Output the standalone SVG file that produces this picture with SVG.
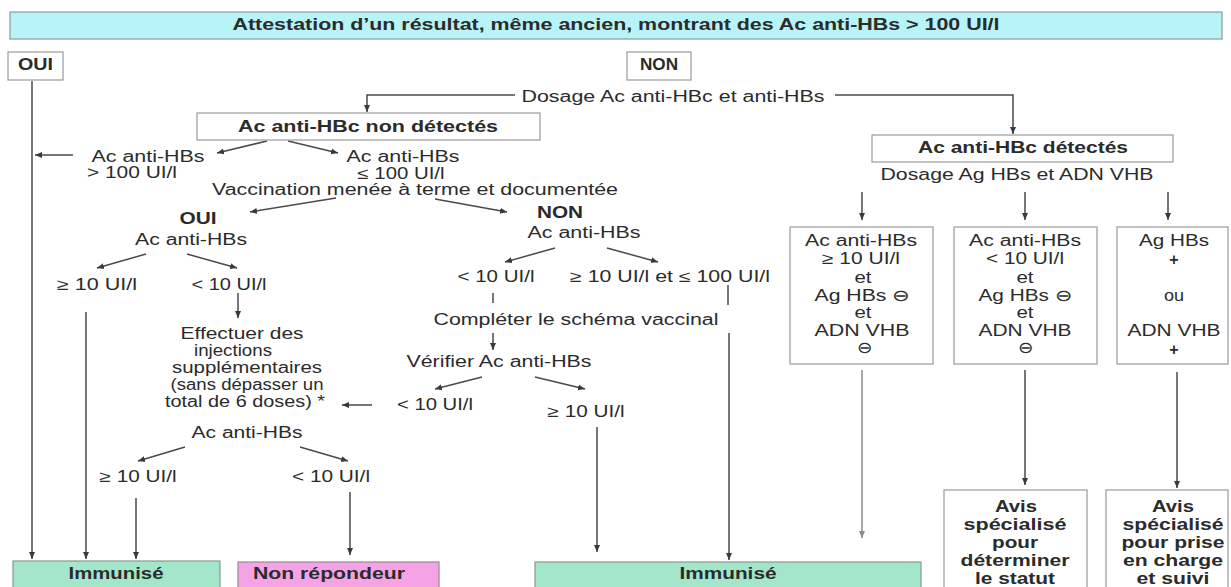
<svg xmlns="http://www.w3.org/2000/svg" width="1231" height="587" viewBox="0 0 1231 587">
<style>
.t{font-family:"Liberation Sans",Arial,sans-serif;font-size:16px;fill:#2b2b2b;text-anchor:middle}
.b{font-weight:bold}
.box{fill:#fff;stroke:#9a9a9a;stroke-width:1.2}
.ban{fill:#b8f3f8;stroke:#8a9a9c;stroke-width:1.2}
.imm{fill:#a4e6c9;stroke:#8a9a90;stroke-width:1.2}
.pink{fill:#f6a3e6;stroke:#9a8a96;stroke-width:1.2}
.c{fill:none;stroke:#4a4a4a;stroke-width:1.5}
.g{stroke:#8a8a8a}
</style>
<defs>
<marker id="ah" markerWidth="8" markerHeight="8" refX="7" refY="4" orient="auto" markerUnits="userSpaceOnUse"><path d="M0,1 L7,4 L0,7 z" fill="#3a3a3a"/></marker>
<marker id="ahg" markerWidth="8" markerHeight="8" refX="7" refY="4" orient="auto" markerUnits="userSpaceOnUse"><path d="M0,1 L7,4 L0,7 z" fill="#8a8a8a"/></marker>
</defs>
<rect width="1231" height="587" fill="#fff"/>

<g id="connectors">
<path class="c" d="M32,81 V559" marker-end="url(#ah)"/>
<path class="c" d="M515,95 H367 V112" marker-end="url(#ah)"/>
<path class="c" d="M835,95 H1013 V134" marker-end="url(#ah)"/>
<path class="c" d="M73,155 H35" marker-end="url(#ah)"/>
<path class="c" d="M267,141 L217,153" marker-end="url(#ah)"/>
<path class="c" d="M288,141 L338,153" marker-end="url(#ah)"/>
<path class="c" d="M336,198 L250,212" marker-end="url(#ah)"/>
<path class="c" d="M435,199 L507,212" marker-end="url(#ah)"/>
<path class="c" d="M146,254 L97,268" marker-end="url(#ah)"/>
<path class="c" d="M187,254 L237,268" marker-end="url(#ah)"/>
<path class="c" d="M555,248 L505,262" marker-end="url(#ah)"/>
<path class="c" d="M607,248 L658,262" marker-end="url(#ah)"/>
<path class="c" d="M238,293 V318" marker-end="url(#ah)"/>
<path class="c" d="M86,312 V559" marker-end="url(#ah)"/>
<path class="c" d="M372,405 H342" marker-end="url(#ah)"/>
<path class="c" d="M185,447 L138,461" marker-end="url(#ah)"/>
<path class="c" d="M300,447 L348,461" marker-end="url(#ah)"/>
<path class="c" d="M136,498 V559" marker-end="url(#ah)"/>
<path class="c" d="M350,492 V555" marker-end="url(#ah)"/>
<path class="c" d="M493,293 V303"/>
<path class="c" d="M493,333 V350" marker-end="url(#ah)"/>
<path class="c" d="M482,377 L435,389" marker-end="url(#ah)"/>
<path class="c" d="M535,377 L585,389" marker-end="url(#ah)"/>
<path class="c" d="M597,427 V552" marker-end="url(#ah)"/>
<path class="c" d="M728,285 V305"/>
<path class="c" d="M729,333 V560" marker-end="url(#ah)"/>
<path class="c" d="M862,192 V220" marker-end="url(#ah)"/>
<path class="c" d="M1025,192 V220" marker-end="url(#ah)"/>
<path class="c" d="M1168,192 V220" marker-end="url(#ah)"/>
<path class="c g" d="M862,370 V538" marker-end="url(#ahg)"/>
<path class="c" d="M1025,370 V485" marker-end="url(#ah)"/>
<path class="c" d="M1177,372 V488" marker-end="url(#ah)"/>
</g>

<g id="banner">
<rect class="ban" x="10" y="12" width="1212" height="27"/>
<text class="t b" x="616" y="30" font-size="14" textLength="767" lengthAdjust="spacingAndGlyphs">Attestation d’un résultat, même ancien, montrant des Ac anti-HBs &gt; 100 UI/l</text>
</g>
<g id="oui">
<rect class="box" x="8" y="52" width="55" height="28"/>
<text class="t b" x="35.5" y="70" font-size="14" textLength="35" lengthAdjust="spacingAndGlyphs">OUI</text>
</g>
<g id="non">
<rect class="box" x="627" y="52" width="64" height="28"/>
<text class="t b" x="659" y="70" font-size="14" textLength="38" lengthAdjust="spacingAndGlyphs">NON</text>
</g>
<g id="dosage1">
<text class="t" x="673" y="102" textLength="303" lengthAdjust="spacingAndGlyphs">Dosage Ac anti-HBc et anti-HBs</text>
</g>
<g id="nondetectes">
<rect class="box" x="197" y="113" width="343" height="27"/>
<text class="t b" x="368" y="132" textLength="260" lengthAdjust="spacingAndGlyphs">Ac anti-HBc non détectés</text>
</g>
<g id="sup100">
<text class="t" x="148" y="162" textLength="113" lengthAdjust="spacingAndGlyphs">Ac anti-HBs</text>
<text class="t" x="132" y="178" textLength="90" lengthAdjust="spacingAndGlyphs">&gt; 100 UI/l</text>
</g>
<g id="inf100">
<text class="t" x="403" y="162" textLength="113" lengthAdjust="spacingAndGlyphs">Ac anti-HBs</text>
<text class="t" x="401" y="179" textLength="87" lengthAdjust="spacingAndGlyphs">≤ 100 UI/l</text>
</g>
<g id="vaccination">
<text class="t" x="415" y="195" textLength="406" lengthAdjust="spacingAndGlyphs">Vaccination menée à terme et documentée</text>
</g>
<g id="vacc-oui">
<text class="t b" x="198" y="224" textLength="37" lengthAdjust="spacingAndGlyphs">OUI</text>
<text class="t" x="191" y="245" textLength="112" lengthAdjust="spacingAndGlyphs">Ac anti-HBs</text>
</g>
<g id="vacc-non">
<text class="t b" x="560" y="218" textLength="46" lengthAdjust="spacingAndGlyphs">NON</text>
<text class="t" x="584" y="238" textLength="113" lengthAdjust="spacingAndGlyphs">Ac anti-HBs</text>
</g>
<g id="oui-sup10"><text class="t" x="97" y="290" textLength="80" lengthAdjust="spacingAndGlyphs">≥ 10 UI/l</text></g>
<g id="oui-inf10"><text class="t" x="229" y="290" textLength="75" lengthAdjust="spacingAndGlyphs">&lt; 10 UI/l</text></g>
<g id="non-inf10"><text class="t" x="496" y="282" textLength="77" lengthAdjust="spacingAndGlyphs">&lt; 10 UI/l</text></g>
<g id="non-10-100"><text class="t" x="670" y="282" textLength="200" lengthAdjust="spacingAndGlyphs">≥ 10 UI/l et ≤ 100 UI/l</text></g>
<g id="effectuer">
<text class="t" x="242" y="339" textLength="123" lengthAdjust="spacingAndGlyphs">Effectuer des</text>
<text class="t" x="233" y="356" textLength="78" lengthAdjust="spacingAndGlyphs">injections</text>
<text class="t" x="247" y="373" textLength="150" lengthAdjust="spacingAndGlyphs">supplémentaires</text>
<text class="t" x="247" y="390" textLength="153" lengthAdjust="spacingAndGlyphs">(sans dépasser un</text>
<text class="t" x="245" y="407" textLength="160" lengthAdjust="spacingAndGlyphs">total de 6 doses) *</text>
</g>
<g id="completer"><text class="t" x="576" y="325" textLength="285" lengthAdjust="spacingAndGlyphs">Compléter le schéma vaccinal</text></g>
<g id="verifier"><text class="t" x="499" y="367" textLength="185" lengthAdjust="spacingAndGlyphs">Vérifier Ac anti-HBs</text></g>
<g id="verif-inf10"><text class="t" x="435" y="410" textLength="76" lengthAdjust="spacingAndGlyphs">&lt; 10 UI/l</text></g>
<g id="verif-sup10"><text class="t" x="586" y="417" textLength="77" lengthAdjust="spacingAndGlyphs">≥ 10 UI/l</text></g>
<g id="acantihbs2"><text class="t" x="247" y="438" textLength="111" lengthAdjust="spacingAndGlyphs">Ac anti-HBs</text></g>
<g id="inj-sup10"><text class="t" x="138" y="482" textLength="77" lengthAdjust="spacingAndGlyphs">≥ 10 UI/l</text></g>
<g id="inj-inf10"><text class="t" x="331" y="482" textLength="78" lengthAdjust="spacingAndGlyphs">&lt; 10 UI/l</text></g>

<g id="detectes">
<rect class="box" x="872" y="135" width="301" height="27"/>
<text class="t b" x="1023" y="153" textLength="210" lengthAdjust="spacingAndGlyphs">Ac anti-HBc détectés</text>
</g>
<g id="dosage2"><text class="t" x="1017" y="180" textLength="273" lengthAdjust="spacingAndGlyphs">Dosage Ag HBs et ADN VHB</text></g>
<g id="box1">
<rect class="box" x="790" y="227" width="143" height="137"/>
<text class="t" x="861" y="246" textLength="112" lengthAdjust="spacingAndGlyphs">Ac anti-HBs</text>
<text class="t" x="861" y="264" textLength="78" lengthAdjust="spacingAndGlyphs">≥ 10 UI/l</text>
<text class="t" x="863" y="283" textLength="17" lengthAdjust="spacingAndGlyphs">et</text>
<text class="t" x="862" y="301" textLength="95" lengthAdjust="spacingAndGlyphs">Ag HBs ⊖</text>
<text class="t" x="863" y="318" textLength="17" lengthAdjust="spacingAndGlyphs">et</text>
<text class="t" x="862" y="336" textLength="95" lengthAdjust="spacingAndGlyphs">ADN VHB</text>
<text class="t" x="864" y="353" textLength="15" lengthAdjust="spacingAndGlyphs">⊖</text>
</g>
<g id="box2">
<rect class="box" x="954" y="227" width="143" height="137"/>
<text class="t" x="1025" y="246" textLength="112" lengthAdjust="spacingAndGlyphs">Ac anti-HBs</text>
<text class="t" x="1025" y="264" textLength="78" lengthAdjust="spacingAndGlyphs">&lt; 10 UI/l</text>
<text class="t" x="1025" y="283" textLength="17" lengthAdjust="spacingAndGlyphs">et</text>
<text class="t" x="1025" y="301" textLength="93" lengthAdjust="spacingAndGlyphs">Ag HBs ⊖</text>
<text class="t" x="1025" y="318" textLength="17" lengthAdjust="spacingAndGlyphs">et</text>
<text class="t" x="1025" y="336" textLength="93" lengthAdjust="spacingAndGlyphs">ADN VHB</text>
<text class="t" x="1025" y="353" textLength="15" lengthAdjust="spacingAndGlyphs">⊖</text>
</g>
<g id="box3">
<rect class="box" x="1117" y="227" width="111" height="137"/>
<text class="t" x="1174" y="246" textLength="70" lengthAdjust="spacingAndGlyphs">Ag HBs</text>
<text class="t b" x="1174" y="265">+</text>
<text class="t" x="1174" y="301" textLength="20" lengthAdjust="spacingAndGlyphs">ou</text>
<text class="t" x="1174" y="336" textLength="93" lengthAdjust="spacingAndGlyphs">ADN VHB</text>
<text class="t b" x="1174" y="355">+</text>
</g>

<g id="immunise1">
<rect class="imm" x="13" y="561" width="207" height="40"/>
<text class="t b" x="116" y="579" textLength="95" lengthAdjust="spacingAndGlyphs">Immunisé</text>
</g>
<g id="nonrepondeur">
<rect class="pink" x="238" y="562" width="201" height="40"/>
<text class="t b" x="329" y="579" textLength="152" lengthAdjust="spacingAndGlyphs">Non répondeur</text>
</g>
<g id="immunise2">
<rect class="imm" x="535" y="562" width="386" height="40"/>
<text class="t b" x="728" y="579" textLength="97" lengthAdjust="spacingAndGlyphs">Immunisé</text>
</g>
<g id="avis1">
<rect class="box" x="944" y="490" width="143" height="110"/>
<text class="t b" x="1016" y="512" textLength="42" lengthAdjust="spacingAndGlyphs">Avis</text>
<text class="t b" x="1015" y="530" textLength="103" lengthAdjust="spacingAndGlyphs">spécialisé</text>
<text class="t b" x="1015" y="548" textLength="46" lengthAdjust="spacingAndGlyphs">pour</text>
<text class="t b" x="1015" y="566" textLength="109" lengthAdjust="spacingAndGlyphs">déterminer</text>
<text class="t b" x="1015" y="584" textLength="80" lengthAdjust="spacingAndGlyphs">le statut</text>
</g>
<g id="avis2">
<rect class="box" x="1106" y="490" width="122" height="110"/>
<text class="t b" x="1173" y="512" textLength="42" lengthAdjust="spacingAndGlyphs">Avis</text>
<text class="t b" x="1173" y="530" textLength="101" lengthAdjust="spacingAndGlyphs">spécialisé</text>
<text class="t b" x="1173" y="548" textLength="103" lengthAdjust="spacingAndGlyphs">pour prise</text>
<text class="t b" x="1173" y="566" textLength="100" lengthAdjust="spacingAndGlyphs">en charge</text>
<text class="t b" x="1173" y="584" textLength="73" lengthAdjust="spacingAndGlyphs">et suivi</text>
</g>
</svg>
